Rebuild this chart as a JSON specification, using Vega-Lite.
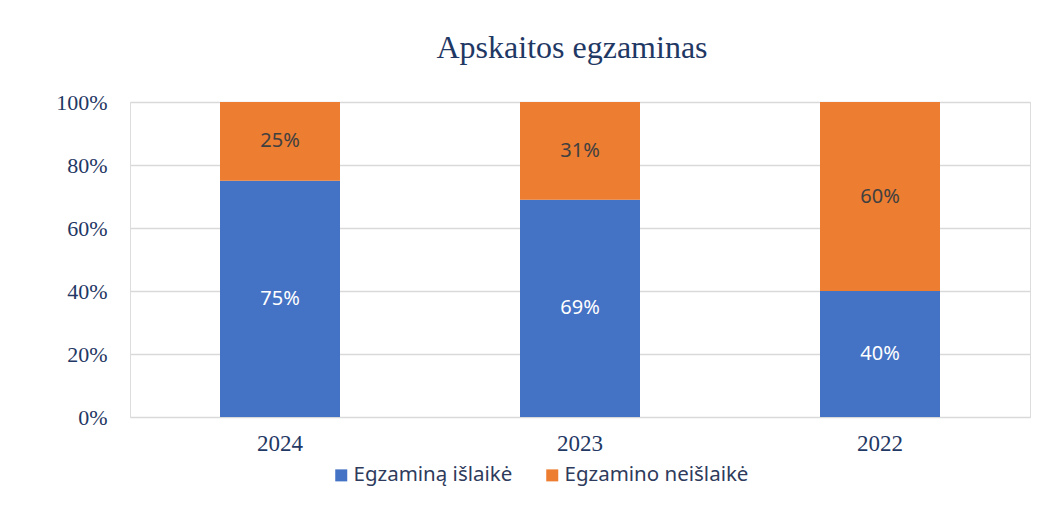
{
  "$schema": "https://vega.github.io/schema/vega-lite/v6.json",
  "autosize": {"type": "none"},
  "padding": {"left": 130, "top": 102, "right": 29, "bottom": 89},
  "width": 900,
  "height": 315,
  "background": "white",
  "title": {
    "text": "Apskaitos egzaminas",
    "font": "Liberation Serif",
    "fontSize": 32,
    "fontWeight": "normal",
    "color": "#1F3864",
    "anchor": "middle",
    "baseline": "alphabetic",
    "offset": 1,
    "dx": -8
  },
  "data": {
    "values": [
      {"year": "2024", "series": "Egzaminą išlaikė", "value": 0.75},
      {"year": "2024", "series": "Egzamino neišlaikė", "value": 0.25},
      {"year": "2023", "series": "Egzaminą išlaikė", "value": 0.69},
      {"year": "2023", "series": "Egzamino neišlaikė", "value": 0.31},
      {"year": "2022", "series": "Egzaminą išlaikė", "value": 0.40},
      {"year": "2022", "series": "Egzamino neišlaikė", "value": 0.60}
    ]
  },
  "encoding": {
    "x": {
      "field": "year",
      "type": "nominal",
      "sort": ["2024", "2023", "2022"],
      "scale": {"paddingInner": 0.6, "paddingOuter": 0.3},
      "axis": {
        "title": null,
        "labelAngle": 0,
        "labelFont": "Liberation Serif",
        "labelFontSize": 23,
        "labelColor": "#1F3864",
        "labelPadding": 15,
        "ticks": false,
        "domain": false
      }
    },
    "y": {
      "field": "value",
      "type": "quantitative",
      "stack": "zero",
      "scale": {"domain": [0, 1]},
      "axis": {
        "title": null,
        "format": ".0%",
        "values": [0, 0.2, 0.4, 0.6, 0.8, 1],
        "labelFont": "Liberation Serif",
        "labelFontSize": 22,
        "labelColor": "#1F3864",
        "labelPadding": 23,
        "ticks": false,
        "domain": false,
        "grid": true,
        "gridColor": "#D9D9D9",
        "gridWidth": 1.5
      }
    },
    "order": {"field": "series", "sort": "descending"}
  },
  "layer": [
    {
      "mark": {"type": "bar"},
      "encoding": {
        "color": {
          "field": "series",
          "type": "nominal",
          "scale": {
            "domain": ["Egzaminą išlaikė", "Egzamino neišlaikė"],
            "range": ["#4472C4", "#ED7D31"]
          },
          "legend": {
            "title": null,
            "orient": "none",
            "legendX": 201,
            "legendY": 363,
            "direction": "horizontal",
            "symbolType": "square",
            "symbolSize": 144,
            "symbolStrokeWidth": 0,
            "labelFont": "Noto Sans",
            "labelFontSize": 20.5,
            "labelColor": "#2E3B5C",
            "labelOffset": 2,
            "labelLimit": 400,
            "columnPadding": 29
          }
        }
      }
    },
    {
      "mark": {"type": "text", "font": "Noto Sans", "fontSize": 20, "baseline": "middle", "align": "center"},
      "encoding": {
        "y": {"field": "value", "type": "quantitative", "stack": "zero", "bandPosition": 0.5},
        "text": {"field": "value", "type": "quantitative", "format": ".0%"},
        "color": {
          "condition": {"test": "datum.series === 'Egzaminą išlaikė'", "value": "white"},
          "value": "#404040"
        }
      }
    }
  ]
}
